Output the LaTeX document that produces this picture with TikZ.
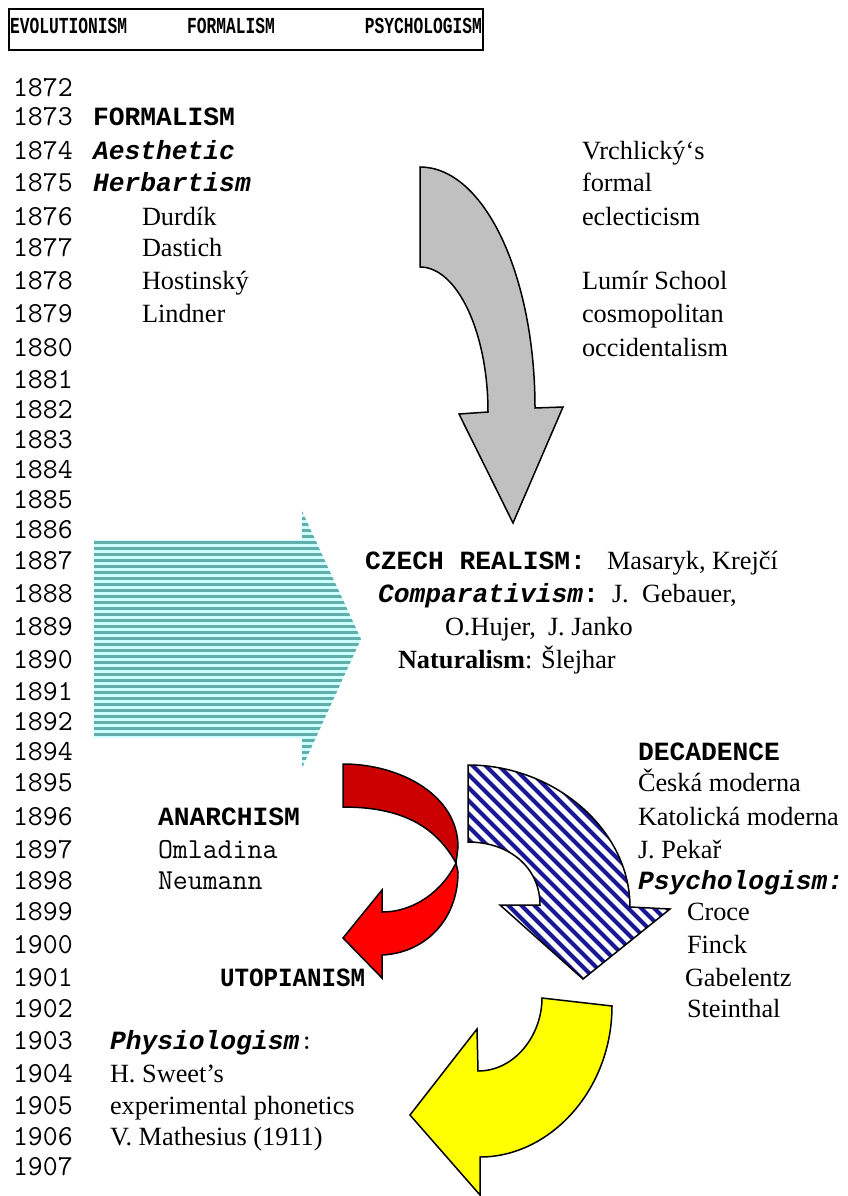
\documentclass[tikz,border=0pt]{standalone}
\usepackage{fontspec}
\setmainfont{Liberation Serif}
\newfontfamily\heavymono{Liberation Mono}
\definecolor{grayfill}{RGB}{192,192,192}
\definecolor{tealL}{RGB}{204,255,255}
\definecolor{tealD}{RGB}{99,174,170}
\definecolor{blueS}{RGB}{24,24,150}
\definecolor{redD}{RGB}{204,0,0}
\definecolor{redL}{RGB}{255,0,0}
\definecolor{yellowF}{RGB}{255,255,0}
\begin{document}
\begin{tikzpicture}[x=1pt,y=-1pt,
  every node/.style={inner sep=0pt,outer sep=0pt,anchor=base west},
  yr/.style={font=\fontsize{29}{32}\selectfont\ttfamily},
  mono/.style={font=\fontsize{29}{32}\selectfont\ttfamily},
  monob/.style={font=\fontsize{26.3}{30}\selectfont\heavymono\bfseries},
  serif/.style={font=\fontsize{26.3}{30}\selectfont\rmfamily},
  hdr/.style={font=\fontsize{16.6}{18}\selectfont\heavymono\bfseries},
  arrowline/.style={draw=black,line width=1.5pt,line join=miter}]
\useasboundingbox (0,0) rectangle (848,1196);

% heading box
\node[draw,line width=1.6pt,minimum width=474pt,minimum height=41pt,anchor=north west] (header) at (9,9) {};
\node[hdr] (hEvo) at (10,33.5) {\scalebox{0.98}[1.38]{EVOLUTIONISM}};
\node[hdr] (hForm) at (187,33.5) {\scalebox{0.98}[1.38]{FORMALISM}};
\node[hdr,anchor=base east] (hPsy) at (482,33.5) {\scalebox{0.98}[1.38]{PSYCHOLOGISM}};

% year column
\foreach \yr/\c in {1872/88,1873/117,1874/151,1875/183,1876/217,1877/248,1878/281,
  1879/314,1880/348,1881/380,1882/410,1883/440,1884/470,1885/500,1886/530,
  1887/561,1888/594,1889/627,1890/660,1891/692,1892/722,1894/752,1895/783,
  1896/817,1897/850,1898/881,1899/912,1900/945,1901/978,1902/1009,1903/1041,
  1904/1074,1905/1106,1906/1137,1907/1167}
  \node[yr] (y\yr) at (13,\c+8.5) {\yr};

% text columns
\coordinate (cA) at (93,0);
\coordinate (cB) at (142,0);
\coordinate (cC) at (582,0);
\coordinate (cE) at (638,0);
\coordinate (cF) at (687,0);
\coordinate (cG) at (158,0);
\coordinate (cH) at (220,0);
\coordinate (cI) at (110,0);

% ---------- arrows ----------
% grey arrow
\draw[arrowline,fill=grayfill] (420,167) .. controls (484,167) and (535,275) .. (535,408)
  -- (563,407) -- (513,523) -- (459,414) -- (488,412)
  .. controls (488,332) and (457,267) .. (420,267) -- cycle;

% striped teal arrow
\begin{scope}
  \path[fill=tealL] (94,540) -- (302,540) -- (302,511) -- (361,639) -- (302,768) -- (302,738) -- (94,738) -- cycle;
  \clip (94,540) -- (302,540) -- (302,511) -- (361,639) -- (302,768) -- (302,738) -- (94,738) -- cycle;
  \foreach \s in {512,518,...,770}
    \draw[tealD,line width=3pt] (90,\s) -- (365,\s);
\end{scope}

% red ribbon arrow: back side, then front side
\draw[arrowline,fill=redD] (343,764) .. controls (400,764) and (458,795) .. (458,847)
  -- (456,863) .. controls (435,825) and (400,807) .. (343,807) -- cycle;
\draw[arrowline,fill=redL] (456,863) -- (458,872)
  .. controls (458,920) and (425,953) .. (382,955) -- (382,978) -- (343,938)
  -- (382,890) -- (382,912) .. controls (415,912) and (443,890) .. (456,863) -- cycle;

% striped blue arrow
\begin{scope}
  \path[fill=white] (468,765) .. controls (555,765) and (630,830) .. (630,907)
    -- (670,909) -- (583,979) -- (500,905) -- (540,905)
    .. controls (540,868) and (510,842) .. (468,842) -- cycle;
  \clip (468,765) .. controls (555,765) and (630,830) .. (630,907)
    -- (670,909) -- (583,979) -- (500,905) -- (540,905)
    .. controls (540,868) and (510,842) .. (468,842) -- cycle;
  \foreach \c in {-540,-527,...,-60}
    \draw[blueS,line width=4pt] (\c+740,740) -- (\c+1000,1000);
\end{scope}
\draw[arrowline] (468,765) .. controls (555,765) and (630,830) .. (630,907)
  -- (670,909) -- (583,979) -- (500,905) -- (540,905)
  .. controls (540,868) and (510,842) .. (468,842) -- cycle;

% yellow arrow
\draw[arrowline,fill=yellowF] (542,998) -- (612,1006)
  .. controls (612,1090) and (550,1157) .. (480,1157) -- (480,1195) -- (410,1115)
  -- (477,1029) -- (478,1071) .. controls (515,1071) and (542,1035) .. (542,998) -- cycle;

% ---------- texts ----------
\node[monob] (tFormalism) at (cA |- y1873.base) {FORMALISM};
\node[monob] (tAesthetic) at (cA |- y1874.base) {\itshape Aesthetic};
\node[monob] (tHerbart) at (cA |- y1875.base) {\itshape Herbartism};
\node[serif] (tDurdik) at (cB |- y1876.base) {Durdík};
\node[serif] (tDastich) at (cB |- y1877.base) {Dastich};
\node[serif] (tHostinsky) at (cB |- y1878.base) {Hostinský};
\node[serif] (tLindner) at (cB |- y1879.base) {Lindner};

\node[serif] (tVrch) at (cC |- y1874.base) {Vrchlický‘s};
\node[serif] (tFormal) at (cC |- y1875.base) {formal};
\node[serif] (tEclect) at (cC |- y1876.base) {eclecticism};
\node[serif] (tLumir) at (cC |- y1878.base) {Lumír School};
\node[serif] (tCosmo) at (cC |- y1879.base) {cosmopolitan};
\node[serif] (tOccid) at (cC |- y1880.base) {occidentalism};

\node[monob] (tRealism) at (365,0 |- y1887.base) {CZECH REALISM:};
\node[serif] (tMasaryk) at (607,0 |- y1887.base) {Masaryk, Krejčí};
\node[monob] (tCompar) at (378,0 |- y1888.base) {\textit{Comparativism}:};
\node[serif] (tJ) at (612,0 |- y1888.base) {J.};
\node[serif] (tGebauer) at (642,0 |- y1888.base) {Gebauer,};
\node[serif] (tHujer) at (445,0 |- y1889.base) {O.Hujer,};
\node[serif] (tJanko) at (548,0 |- y1889.base) {J. Janko};
\node[serif] (tNatur) at (398,0 |- y1890.base) {\textbf{Naturalism}: Šlejhar};

\node[monob] (tDecad) at (cE |- y1894.base) {DECADENCE};
\node[serif] (tCeska) at (cE |- y1895.base) {Česká moderna};
\node[serif] (tKatol) at (cE |- y1896.base) {Katolická moderna};
\node[serif] (tPekar) at (cE |- y1897.base) {J. Pekař};
\node[monob] (tPsych) at (cE |- y1898.base) {\itshape Psychologism:};
\node[serif] (tCroce) at (cF |- y1899.base) {Croce};
\node[serif] (tFinck) at (cF |- y1900.base) {Finck};
\node[serif] (tGabel) at ([xshift=-2pt]cF |- y1901.base) {Gabelentz};
\node[serif] (tStein) at (cF |- y1902.base) {Steinthal};

\node[monob] (tAnarch) at (cG |- y1896.base) {ANARCHISM};
\node[mono] (tOmlad) at (cG |- y1897.base) {Omladina};
\node[mono] (tNeum) at (cG |- y1898.base) {Neumann};
\node[monob] (tUtop) at (cH |- y1901.base) {\scalebox{0.92}[1]{UTOPIANISM}};

\node[mono] (tPhysio) at (cI |- y1903.base) {{\fontsize{26.3}{30}\selectfont\heavymono\bfseries\itshape Physiologism}:};
\node[serif] (tSweet) at (cI |- y1904.base) {H. Sweet’s};
\node[serif] (tPhon) at (cI |- y1905.base) {experimental phonetics};
\node[serif] (tMath) at (cI |- y1906.base) {V. Mathesius (1911)};
\end{tikzpicture}
\end{document}
